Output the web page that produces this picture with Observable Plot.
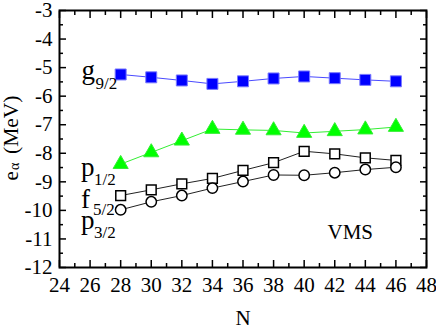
<!DOCTYPE html>
<html>
<head>
<meta charset="utf-8">
<script src="https://cdn.jsdelivr.net/npm/d3@7"></script>
<script src="https://cdn.jsdelivr.net/npm/@observablehq/plot@0.6"></script>
<style>
  html, body { margin: 0; padding: 0; background: #fff; }
</style>
</head>
<body>
<div id="chart"></div>
<script>
// ---- data ----
const N    = [28, 30, 32, 34, 36, 38, 40, 42, 44, 46];
const g92  = [-5.24, -5.34, -5.45, -5.57, -5.48, -5.38, -5.31, -5.37, -5.43, -5.48];
const p12  = [-8.38, -7.97, -7.56, -7.15, -7.18, -7.20, -7.29, -7.23, -7.17, -7.08];
const f52  = [-9.48, -9.28, -9.07, -8.88, -8.60, -8.33, -7.93, -8.02, -8.16, -8.25];
const p32  = [-9.98, -9.70, -9.48, -9.22, -8.99, -8.76, -8.77, -8.68, -8.57, -8.49];

const xTicks = [24, 26, 28, 30, 32, 34, 36, 38, 40, 42, 44, 46, 48];
const xMinor = [25, 27, 29, 31, 33, 35, 37, 39, 41, 43, 45, 47];
const yTicks = [-12, -11, -10, -9, -8, -7, -6, -5, -4, -3];
const yMinor = [-11.5, -10.5, -9.5, -8.5, -7.5, -6.5, -5.5, -4.5, -3.5];

const toRows = (vals) => N.map((n, i) => ({N: n, e: vals[i]}));
const rowsG = toRows(g92), rowsP12 = toRows(p12), rowsF = toRows(f52), rowsP32 = toRows(p32);

const serif = "'Liberation Serif', 'Times New Roman', Times, serif";

function label(txt, dx, dy, size) {
  return Plot.text([txt], {
    text: d => d, frameAnchor: "top-left", dx, dy,
    fontSize: size, textAnchor: "start", lineAnchor: "bottom", fill: "black"
  });
}

function ticksFor(anchor) {
  const isX = anchor === "top" || anchor === "bottom";
  const ax = isX ? Plot.axisX : Plot.axisY;
  return [
    ax(isX ? xTicks : yTicks, {anchor, text: null, tickSize: -7, strokeWidth: 1.5, label: null}),
    ax(isX ? xMinor : yMinor, {anchor, text: null, tickSize: -4, strokeWidth: 1.5, label: null})
  ];
}

const chart = Plot.plot({
  width: 436,
  height: 327,
  marginLeft: 59,
  marginRight: 10,
  marginTop: 10,
  marginBottom: 60,
  style: {fontFamily: serif, fontSize: "21px", background: "white", color: "black"},
  x: {domain: [24, 48]},
  y: {domain: [-12, -3]},
  marks: [
    // axis labels (numbers)
    Plot.axisX(xTicks, {anchor: "bottom", tickSize: 0, tickPadding: 10, fontSize: 21,
      tickFormat: d => String(d), label: null}),
    Plot.axisY(yTicks, {anchor: "left", tickSize: 0, tickPadding: 7, fontSize: 21,
      tickFormat: d => String(d), label: null}),
    // inward ticks on all four sides
    ...ticksFor("bottom"), ...ticksFor("top"), ...ticksFor("left"), ...ticksFor("right"),
    Plot.frame({stroke: "black", strokeWidth: 2}),

    // series lines
    Plot.line(rowsG,   {x: "N", y: "e", stroke: "#4a4aff", strokeWidth: 1}),
    Plot.line(rowsP12, {x: "N", y: "e", stroke: "#33ee33", strokeWidth: 1}),
    Plot.line(rowsF,   {x: "N", y: "e", stroke: "#222", strokeWidth: 1}),
    Plot.line(rowsP32, {x: "N", y: "e", stroke: "#222", strokeWidth: 1}),

    // markers
    Plot.dot(rowsG,   {x: "N", y: "e", symbol: "square", r: 6.2, fill: "#0000ff", stroke: "#7a7aff", strokeWidth: 1}),
    Plot.dot(rowsP12, {x: "N", y: "e", symbol: "triangle", r: 5.6, fill: "#00ff00", stroke: "#33ee33", strokeWidth: 1}),
    Plot.dot(rowsF,   {x: "N", y: "e", symbol: "square", r: 5.5, fill: "white", stroke: "black", strokeWidth: 1.5}),
    Plot.dot(rowsP32, {x: "N", y: "e", symbol: "circle", r: 5.2, fill: "white", stroke: "black", strokeWidth: 1.5}),

    // series labels
    label("g", 22, 68, 27),      label("9/2", 36, 78, 17),
    label("p", 21.5, 165, 27),   label("1/2", 34.5, 174, 17),
    label("f", 21.5, 197, 27),   label("5/2", 33.5, 204.5, 17),
    label("p", 21.5, 218, 27),   label("3/2", 34.5, 227.5, 17),

    // VMS tag
    label("VMS", 268, 228, 21),

    // x-axis title
    Plot.text(["N"], {text: d => d, frameAnchor: "bottom", dy: 57.5, lineAnchor: "bottom", fontSize: 21}),

    // y-axis title (rotated), e_α (MeV)
    Plot.text(["e"], {text: d => d, frameAnchor: "left", dx: -42, dy: 41.5, rotate: -90,
      textAnchor: "start", lineAnchor: "bottom", fontSize: 21}),
    Plot.text(["α"], {text: d => d, frameAnchor: "left", dx: -41, dy: 31, rotate: -90,
      textAnchor: "start", lineAnchor: "bottom", fontSize: 14}),
    Plot.text(["(MeV)"], {text: d => d, frameAnchor: "left", dx: -42, dy: 15, rotate: -90,
      textAnchor: "start", lineAnchor: "bottom", fontSize: 21.5})
  ]
});

document.getElementById("chart").appendChild(chart);
</script>
</body>
</html>
